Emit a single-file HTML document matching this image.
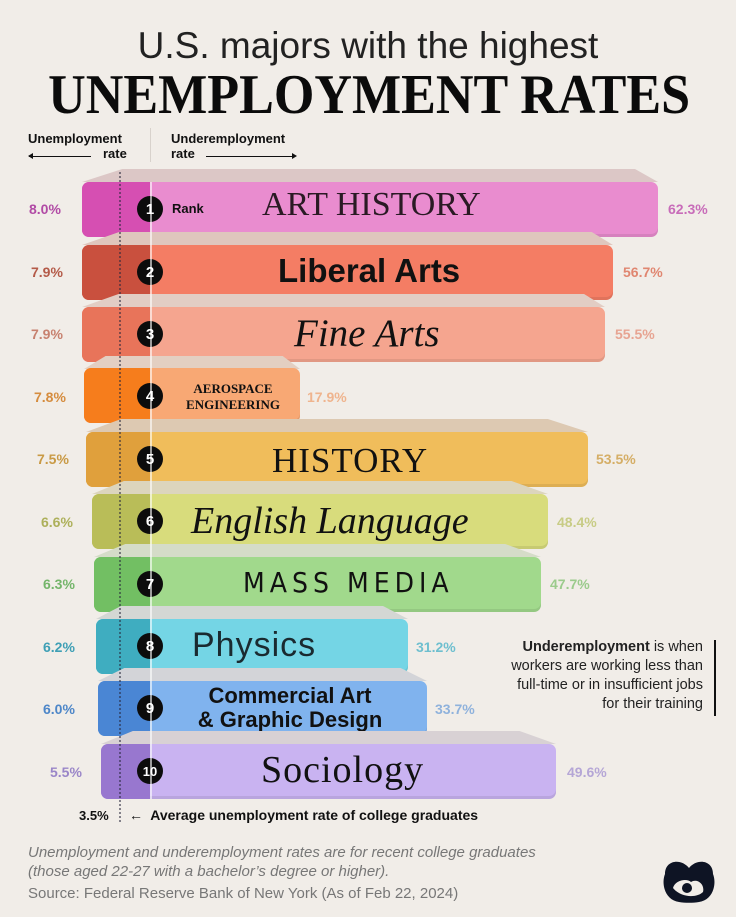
<!DOCTYPE html>
<html><head><meta charset="utf-8"><style>
body{margin:0;background:#f1ede8;}
#c{position:relative;width:736px;height:917px;overflow:hidden;background:#f1ede8;font-family:"Liberation Sans",sans-serif;color:#111;}
.a{position:absolute;}
.top{position:absolute;height:13px;}
.book{position:absolute;height:55px;border-radius:7px;overflow:hidden;box-shadow:inset 0 -3px 0 rgba(0,0,0,0.08);}
.sp{position:absolute;left:0;top:0;bottom:0;}
.num{position:absolute;left:137px;width:26px;height:26px;border-radius:50%;background:#0c0c0c;color:#fff;font-weight:bold;font-size:15px;display:flex;align-items:center;justify-content:center;}
.pl{position:absolute;font-size:14px;font-weight:bold;width:60px;}
.pr{position:absolute;font-size:14px;font-weight:bold;}
.t{position:absolute;white-space:nowrap;color:#111;}
</style></head><body><div id="c">
<div class="a" style="left:0;width:736px;top:25px;text-align:center;font-size:37px;color:#222;">U.S. majors with the highest</div>
<div class="a" style="left:-231px;width:1200px;top:70px;text-align:center;font-family:'Liberation Serif',serif;font-weight:bold;font-size:56px;line-height:50px;color:#0b0b0b;white-space:nowrap;"><span style="display:inline-block;transform:scaleX(0.93);transform-origin:center;">UNEMPLOYMENT RATES</span></div>

<div class="a" style="left:28px;top:131px;font-size:13px;font-weight:bold;">Unemployment</div>
<div class="a" style="left:103px;top:146px;font-size:13px;font-weight:bold;">rate</div>
<div class="a" style="left:29px;top:156px;width:62px;height:1px;background:#111;"></div>
<div class="a" style="left:28px;top:153px;width:0;height:0;border-top:3px solid transparent;border-bottom:3px solid transparent;border-right:5px solid #111;"></div>
<div class="a" style="left:150px;top:128px;width:1px;height:34px;background:#d8d2cc;"></div>
<div class="a" style="left:171px;top:131px;font-size:13px;font-weight:bold;">Underemployment</div>
<div class="a" style="left:171px;top:146px;font-size:13px;font-weight:bold;">rate</div>
<div class="a" style="left:206px;top:156px;width:86px;height:1px;background:#111;"></div>
<div class="a" style="left:292px;top:153px;width:0;height:0;border-top:3px solid transparent;border-bottom:3px solid transparent;border-left:5px solid #111;"></div>

<!-- row 1 -->
<div class="top" style="left:82px;width:576px;top:169px;background:#dcc7c6;clip-path:polygon(7% 0,96% 0,100% 100%,0 100%);"></div>
<div class="book" style="left:82px;width:576px;top:182px;background:#e98ccf;"><div class="sp" style="width:68px;background:#d64fb2;"></div></div>
<div class="num" style="top:196px;">1</div>
<div class="t" style="left:172px;top:201px;font-size:13px;font-weight:bold;">Rank</div>
<div class="t" style="left:262px;top:186px;font-family:'Liberation Serif',serif;font-size:34px;color:#2a1a24;">ART HISTORY</div>
<div class="pl" style="left:29px;top:201px;color:#b14aa5;">8.0%</div>
<div class="pr" style="left:668px;top:201px;color:#c86cb9;">62.3%</div>

<!-- row 2 -->
<div class="top" style="left:82px;width:531px;top:232px;background:#dfc6bd;clip-path:polygon(7% 0,96% 0,100% 100%,0 100%);"></div>
<div class="book" style="left:82px;width:531px;top:245px;background:#f47d64;"><div class="sp" style="width:68px;background:#c9503e;"></div></div>
<div class="num" style="top:259px;">2</div>
<div class="t" style="left:278px;top:252px;font-size:33px;font-weight:bold;">Liberal Arts</div>
<div class="pl" style="left:31px;top:264px;color:#b45a48;">7.9%</div>
<div class="pr" style="left:623px;top:264px;color:#e08670;">56.7%</div>

<!-- row 3 -->
<div class="top" style="left:82px;width:523px;top:294px;background:#e2cdc4;clip-path:polygon(7% 0,96% 0,100% 100%,0 100%);"></div>
<div class="book" style="left:82px;width:523px;top:307px;background:#f5a58f;"><div class="sp" style="width:68px;background:#e8745a;"></div></div>
<div class="num" style="top:321px;">3</div>
<div class="t" style="left:294px;top:311px;font-family:'Liberation Serif',serif;font-style:italic;font-size:39px;">Fine Arts</div>
<div class="pl" style="left:31px;top:326px;color:#c7816f;">7.9%</div>
<div class="pr" style="left:615px;top:326px;color:#e7a492;">55.5%</div>

<!-- row 4 -->
<div class="top" style="left:84px;width:216px;top:356px;background:#e3cfc2;clip-path:polygon(10% 0,92% 0,100% 100%,0 100%);"></div>
<div class="book" style="left:84px;width:216px;top:368px;background:#f8a874;"><div class="sp" style="width:66px;background:#f67d1c;"></div></div>
<div class="num" style="top:383px;">4</div>
<div class="t" style="left:173px;top:381px;font-family:'Liberation Serif',serif;font-weight:bold;font-size:13px;line-height:16px;text-align:center;width:120px;">AEROSPACE<br>ENGINEERING</div>
<div class="pl" style="left:34px;top:389px;color:#d58c3e;">7.8%</div>
<div class="pr" style="left:307px;top:389px;color:#efb48e;">17.9%</div>

<!-- row 5 -->
<div class="top" style="left:86px;width:502px;top:419px;background:#ddc9b2;clip-path:polygon(7% 0,92% 0,100% 100%,0 100%);"></div>
<div class="book" style="left:86px;width:502px;top:432px;background:#f0bd5b;"><div class="sp" style="width:64px;background:#e0a03c;"></div></div>
<div class="num" style="top:446px;">5</div>
<div class="t" style="left:272px;top:441px;font-family:'Liberation Serif',serif;font-size:35px;letter-spacing:1px;">HISTORY</div>
<div class="pl" style="left:37px;top:451px;color:#c99a45;">7.5%</div>
<div class="pr" style="left:596px;top:451px;color:#d5ae66;">53.5%</div>

<!-- row 6 -->
<div class="top" style="left:92px;width:456px;top:481px;background:#dcd5bd;clip-path:polygon(7% 0,92% 0,100% 100%,0 100%);"></div>
<div class="book" style="left:92px;width:456px;top:494px;background:#d8dc7c;"><div class="sp" style="width:58px;background:#b9bd58;"></div></div>
<div class="num" style="top:508px;">6</div>
<div class="t" style="left:191px;top:499px;font-family:'Liberation Serif',serif;font-style:italic;font-size:38px;">English Language</div>
<div class="pl" style="left:41px;top:514px;color:#adb05a;">6.6%</div>
<div class="pr" style="left:557px;top:514px;color:#c8cc85;">48.4%</div>

<!-- row 7 -->
<div class="top" style="left:94px;width:447px;top:544px;background:#d5dcc8;clip-path:polygon(7% 0,92% 0,100% 100%,0 100%);"></div>
<div class="book" style="left:94px;width:447px;top:557px;background:#a1d98c;"><div class="sp" style="width:56px;background:#72bf63;"></div></div>
<div class="num" style="top:571px;">7</div>
<div class="t" style="left:243px;top:566px;font-family:'DejaVu Sans Condensed','Liberation Sans',sans-serif;font-size:28px;letter-spacing:5px;">MASS MEDIA</div>
<div class="pl" style="left:43px;top:576px;color:#74b56a;">6.3%</div>
<div class="pr" style="left:550px;top:576px;color:#9bcb8c;">47.7%</div>

<!-- row 8 -->
<div class="top" style="left:96px;width:312px;top:606px;background:#d4d7d4;clip-path:polygon(8% 0,92% 0,100% 100%,0 100%);"></div>
<div class="book" style="left:96px;width:312px;top:619px;background:#74d5e5;"><div class="sp" style="width:54px;background:#3fadc0;"></div></div>
<div class="num" style="top:633px;">8</div>
<div class="t" style="left:192px;top:626px;font-size:34px;letter-spacing:1px;color:#1a2a30;">Physics</div>
<div class="pl" style="left:43px;top:639px;color:#3e9fb5;">6.2%</div>
<div class="pr" style="left:416px;top:639px;color:#6ebfcf;">31.2%</div>

<!-- row 9 -->
<div class="top" style="left:98px;width:329px;top:668px;background:#d3d4d8;clip-path:polygon(8% 0,92% 0,100% 100%,0 100%);"></div>
<div class="book" style="left:98px;width:329px;top:681px;background:#80b3ee;"><div class="sp" style="width:52px;background:#4a86d4;"></div></div>
<div class="num" style="top:695px;">9</div>
<div class="t" style="left:190px;top:684px;font-size:22px;font-weight:bold;line-height:24px;text-align:center;width:200px;">Commercial Art<br>&amp; Graphic Design</div>
<div class="pl" style="left:43px;top:701px;color:#4d86c8;">6.0%</div>
<div class="pr" style="left:435px;top:701px;color:#8fb2dc;">33.7%</div>

<!-- row 10 -->
<div class="top" style="left:101px;width:455px;top:731px;background:#d8d1d4;clip-path:polygon(7% 0,92% 0,100% 100%,0 100%);"></div>
<div class="book" style="left:101px;width:455px;top:744px;background:#c9b3f1;"><div class="sp" style="width:49px;background:#9877cf;"></div></div>
<div class="num" style="top:758px;font-size:13px;">10</div>
<div class="t" style="left:261px;top:748px;font-family:'Liberation Serif',serif;font-size:38px;letter-spacing:1px;">Sociology</div>
<div class="pl" style="left:50px;top:764px;color:#9a86c8;">5.5%</div>
<div class="pr" style="left:567px;top:764px;color:#b5a6d6;">49.6%</div>

<!-- dotted average line -->
<div class="a" style="left:119px;top:172px;height:650px;border-left:2px dotted rgba(40,40,60,0.55);"></div>
<div class="a" style="left:150px;top:182px;width:2px;height:617px;background:rgba(255,255,255,0.6);"></div>

<div class="a" style="left:79px;top:808px;font-size:13px;font-weight:bold;">3.5%</div>
<div class="a" style="left:129px;top:807px;font-size:14px;font-weight:bold;">&#8592;&nbsp; Average unemployment rate of college graduates</div>

<div class="a" style="left:500px;top:638px;width:203px;text-align:right;font-size:14.5px;line-height:19px;color:#222;"><b>Underemployment</b> is when workers are working less than full-time or in insufficient jobs for their training</div>
<div class="a" style="left:714px;top:640px;width:2px;height:76px;background:#111;"></div>

<div class="a" style="left:28px;top:843px;font-size:15px;font-style:italic;color:#777;line-height:19px;">Unemployment and underemployment rates are for recent college graduates<br>(those aged 22-27 with a bachelor’s degree or higher).</div>
<div class="a" style="left:28px;top:885px;font-size:15px;color:#777;">Source: Federal Reserve Bank of New York (As of Feb 22, 2024)</div>

<svg class="a" style="left:661px;top:860px;" width="56" height="44" viewBox="0 0 56 44">
<path d="M28 8 C20 -2 4 0 4 14 C0 24 4 40 18 42 C24 43 32 43 38 42 C52 40 56 24 52 14 C52 0 36 -2 28 8Z" fill="#0e1424"/>
<path d="M12 28 C14 20 26 18 30 22 C36 18 44 24 42 32 C36 38 20 38 12 28Z" fill="#f1ede8"/>
<circle cx="26" cy="28" r="5" fill="#0e1424"/>
</svg>
</div></body></html>
